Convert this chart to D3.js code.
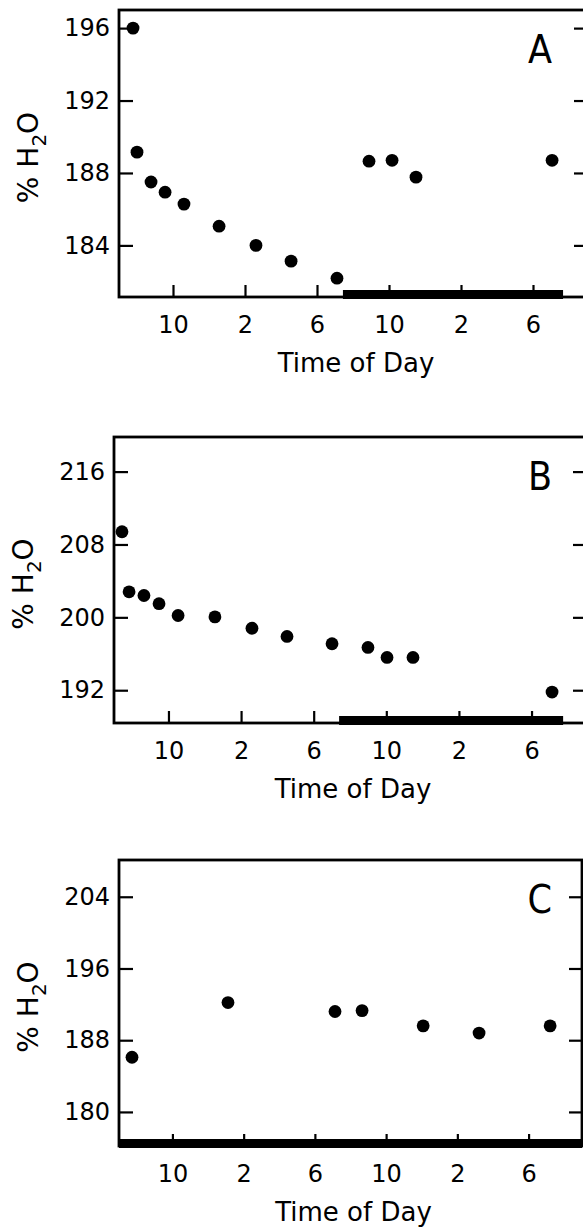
<!DOCTYPE html>
<meta charset="utf-8">
<style>
body { margin: 0; background: #fff; }
svg { display: block; }
.axis path.domain { display: none; }
.axis line { stroke: #000; stroke-width: 2.2; }
.axis text { font-family: "DejaVu Sans", sans-serif; font-size: 24px; fill: #000; }
.title { font-family: "DejaVu Sans", sans-serif; font-size: 26px; fill: #000; }
.ytitle { font-family: "DejaVu Sans", sans-serif; font-size: 28px; fill: #000; }
.letter { font-family: "DejaVu Sans Condensed", "DejaVu Sans", sans-serif; font-stretch: condensed; font-size: 39px; fill: #000; }
</style>
<body>
<script src="https://d3js.org/d3.v7.min.js"></script>
<script>

// x is hours since midnight of the first day (7 am .. 9 am next day)
var xTicks = [10, 14, 18, 22, 26, 30];
var xTickLabels = ["10", "2", "6", "10", "2", "6"];

// panel A
var hoursA = [7.78, 8.0, 8.78, 9.56, 10.61, 12.56, 14.61, 16.56, 19.11, 20.89, 22.17, 23.5, 31.06];
var waterA = [196.0, 189.15, 187.5, 186.94, 186.28, 185.06, 184.0, 183.13, 182.19, 188.65, 188.7, 187.77, 188.7];
var yTicksA = [184, 188, 192, 196];
var nightA = [19.44, 31.67];

// panel B
var hoursB = [7.44, 7.83, 8.65, 9.48, 10.53, 12.56, 14.6, 16.53, 19.01, 20.99, 22.04, 23.47, 31.13];
var waterB = [209.4, 202.8, 202.4, 201.5, 200.2, 200.05, 198.8, 197.9, 197.1, 196.7, 195.6, 195.6, 191.8];
var yTicksB = [192, 200, 208, 216];
var nightB = [19.4, 31.74];

// panel C
var hoursC = [7.73, 13.12, 19.13, 20.65, 24.08, 27.22, 31.21];
var waterC = [186.1, 192.2, 191.2, 191.3, 189.6, 188.8, 189.6];
var yTicksC = [180, 188, 196, 204];
var nightC = [7, 33];

var panels = [
  {label: "A", hours: hoursA, water: waterA, yTicks: yTicksA, night: nightA,
   yDomain: [181.15, 197], left: 119, right: 587, top: 10, bottom: 297},
  {label: "B", hours: hoursB, water: waterB, yTicks: yTicksB, night: nightB,
   yDomain: [188.4, 219.8], left: 114, right: 586, top: 437, bottom: 723},
  {label: "C", hours: hoursC, water: waterC, yTicks: yTicksC, night: nightC,
   yDomain: [176.2, 208.1], left: 119, right: 582, top: 860, bottom: 1146}
];

var svg = d3.select("body").append("svg").attr("width", 583).attr("height", 1227);

panels.forEach(drawPanel);

function drawPanel(p) {
  var x = d3.scaleLinear().domain([7, 33]).range([p.left, p.right]);
  var y = d3.scaleLinear().domain(p.yDomain).range([p.bottom, p.top]);
  var g = svg.append("g");

  // dark period bar on the time axis
  g.append("rect")
    .attr("x", x(p.night[0]))
    .attr("width", x(p.night[1]) - x(p.night[0]))
    .attr("y", p.bottom - 7)
    .attr("height", 9)
    .attr("fill", "#000");

  g.append("rect")
    .attr("x", p.left).attr("y", p.top)
    .attr("width", p.right - p.left).attr("height", p.bottom - p.top)
    .attr("fill", "none").attr("stroke", "#000").attr("stroke-width", 2.8);

  g.append("g").attr("class", "axis")
    .attr("transform", "translate(" + p.left + ",0)")
    .call(d3.axisLeft(y).tickValues(p.yTicks).tickSize(-14).tickPadding(9));

  g.append("g").attr("class", "axis")
    .attr("transform", "translate(" + p.right + ",0)")
    .call(d3.axisRight(y).tickValues(p.yTicks).tickSize(-13).tickFormat(""));

  g.append("g").attr("class", "axis")
    .attr("transform", "translate(0," + p.bottom + ")")
    .call(d3.axisBottom(x).tickValues(xTicks).tickSize(-12).tickPadding(19)
      .tickFormat((d, i) => xTickLabels[i]));

  g.selectAll("circle.pt")
    .data(p.hours.map((h, i) => [h, p.water[i]]))
    .enter().append("circle").attr("class", "pt")
    .attr("cx", d => x(d[0]))
    .attr("cy", d => y(d[1]))
    .attr("r", 6.4)
    .attr("fill", "#000");

  g.append("text").attr("class", "letter")
    .attr("x", 552).attr("y", p.top + 53)
    .attr("text-anchor", "end")
    .text(p.label);

  g.append("text").attr("class", "title")
    .attr("x", (p.left + p.right) / 2 + 3)
    .attr("y", p.bottom + 75)
    .attr("text-anchor", "middle")
    .text("Time of Day");

  var yt = g.append("text").attr("class", "ytitle")
    .attr("text-anchor", "middle")
    .attr("transform", "translate(" + (p.left - 81) + "," + ((p.top + p.bottom) / 2 + 4) + ") rotate(-90)");
  yt.append("tspan").text("% H");
  yt.append("tspan").attr("dy", 8).attr("font-size", "20px").text("2");
  yt.append("tspan").attr("dy", -8).text("O");
}
</script>
</body>
</html>
